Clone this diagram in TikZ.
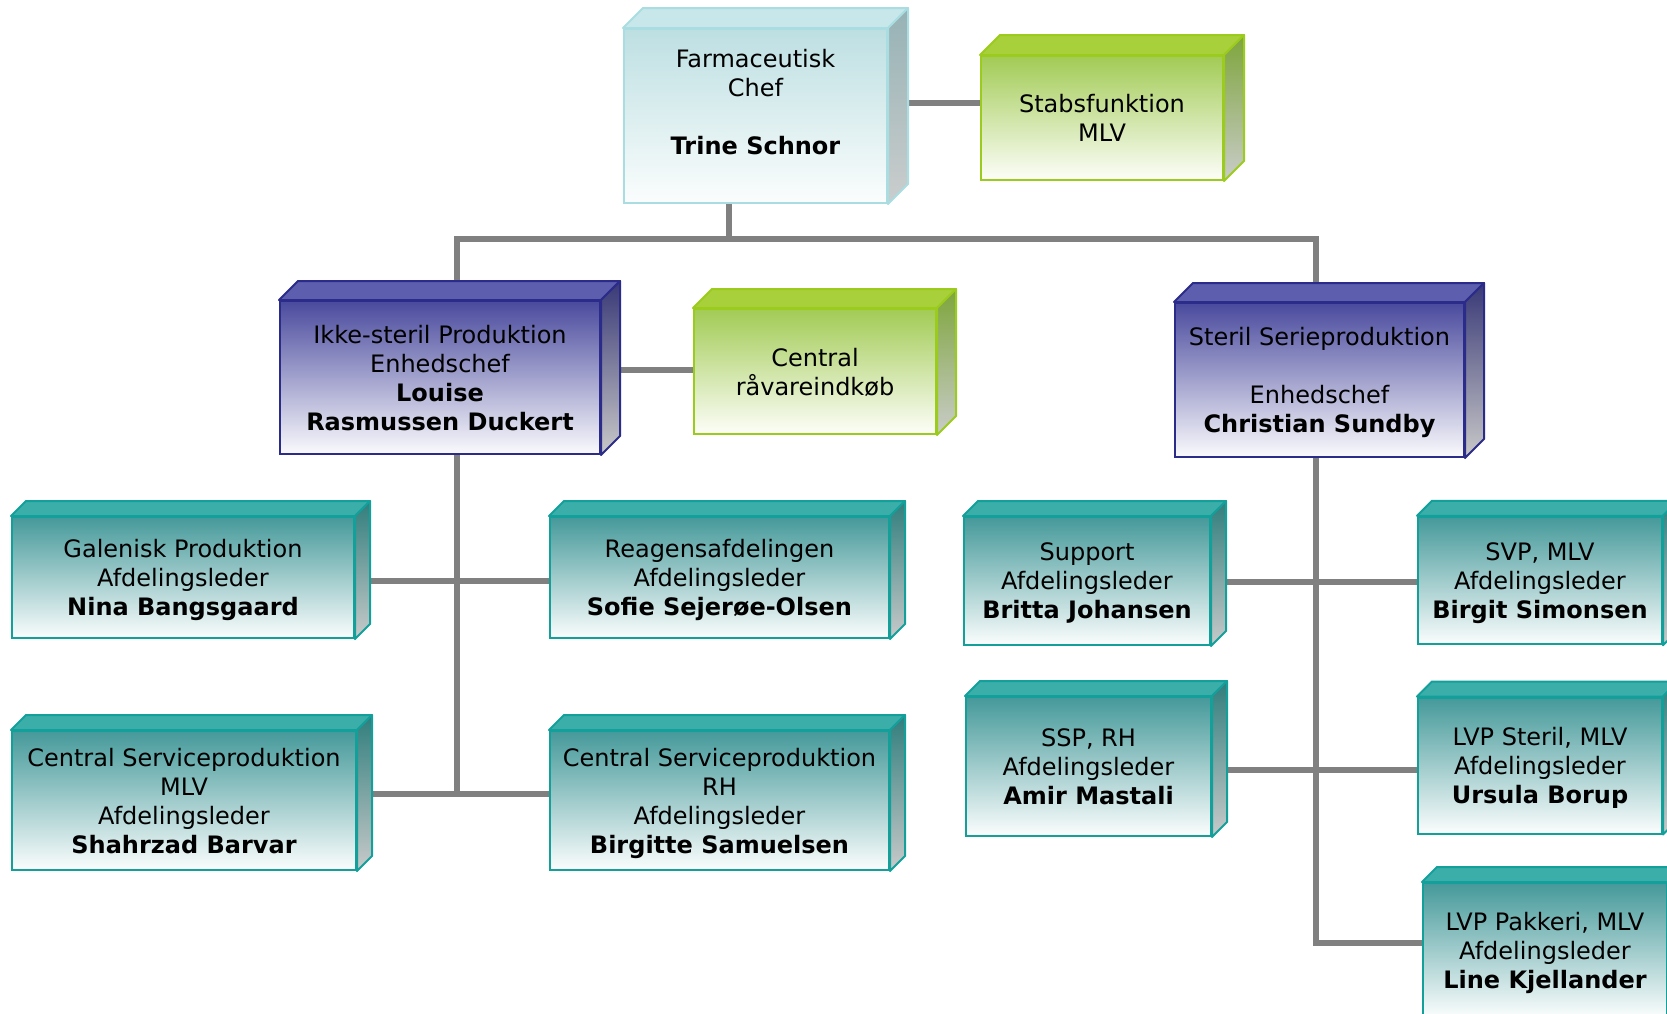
\documentclass[tikz,border=0pt]{standalone}
\usepackage{fontspec}
\setmainfont{DejaVu Sans}
\usetikzlibrary{calc}
\pgfdeclarelayer{bg}
\pgfsetlayers{bg,main}
% Farma (light teal)
\definecolor{fabd}{HTML}{A9DDE1}\definecolor{fatp}{HTML}{C7E7EA}
\definecolor{faft}{HTML}{BDDFE2}\definecolor{famd}{HTML}{DFF0F1}\definecolor{fabt}{HTML}{FBFDFD}
\definecolor{fast}{HTML}{96B2B5}\definecolor{fasb}{HTML}{CBCDCD}
% green
\definecolor{grbd}{HTML}{9BCB1C}\definecolor{grtp}{HTML}{A8D03A}
\definecolor{grft}{HTML}{A2CB55}\definecolor{grmd}{HTML}{DAECBC}\definecolor{grbt}{HTML}{FDFEF9}
\definecolor{grst}{HTML}{7EA53B}\definecolor{grsb}{HTML}{C9CCC9}
% purple
\definecolor{pubd}{HTML}{2B2B8A}\definecolor{putp}{HTML}{5E5EAE}
\definecolor{puft}{HTML}{4A4A9E}\definecolor{pumd}{HTML}{B6B6D8}\definecolor{pubt}{HTML}{FAFAFD}
\definecolor{pust}{HTML}{383877}\definecolor{pusb}{HTML}{C9C9C9}
% teal
\definecolor{tlbd}{HTML}{13A09B}\definecolor{tltp}{HTML}{3BAEAA}
\definecolor{tlft}{HTML}{45999A}\definecolor{tlmd}{HTML}{C6E0E0}\definecolor{tlbt}{HTML}{FBFDFD}
\definecolor{tlst}{HTML}{2F7E7D}\definecolor{tlsb}{HTML}{C9CACA}
\definecolor{connc}{HTML}{808080}
\tikzset{
  conn/.style={draw=connc, line width=6pt},
  front/.style={draw=#1bd, line width=2pt, top color=#1ft, middle color=#1md, bottom color=#1bt,
    inner sep=0pt, align=center, text=black, text depth=0pt, font=\fontsize{24}{29}\selectfont},
  topf/.style={draw=#1bd, line width=2pt, fill=#1tp, line join=round},
  sidef/.style={draw=#1bd, line width=2pt, top color=#1st, bottom color=#1sb, line join=round},
}
\newcommand{\cubebox}[8]{%
  \node[front=#7, minimum width=#4, minimum height=#5] (#1) at (#2,#3) {#8};
  \draw[topf=#7] (#1.north west) -- ++(#6,-#6) -- ([shift={(#6,-#6)}]#1.north east) -- (#1.north east) -- cycle;
  \draw[sidef=#7] (#1.north east) -- ++(#6,-#6) -- ([shift={(#6,-#6)}]#1.south east) -- (#1.south east) -- cycle;
}
\begin{document}
\begin{tikzpicture}[x=1pt,y=-1pt]
\useasboundingbox (0,0) rectangle (1667,1013);
\clip (0,0) rectangle (1667,1013);
\cubebox{farma}{755.5}{116}{263}{174}{20}{fa}{Farmaceutisk\\Chef\\[29pt]\textbf{Trine Schnor}\\\mbox{}}
\cubebox{stab}{1102}{118}{242}{124}{20}{gr}{Stabsfunktion\\MLV}
\cubebox{ikke}{440}{377.5}{320}{153}{19}{pu}{Ikke-steril Produktion\\Enhedschef\\\textbf{Louise}\\\textbf{Rasmussen Duckert}}
\cubebox{raav}{815}{371.5}{242}{125}{19}{gr}{Central\\råvareindkøb}
\cubebox{steril}{1319.5}{380}{289}{154}{19}{pu}{Steril Serieproduktion\\[29pt]Enhedschef\\\textbf{Christian Sundby}}
\cubebox{gal}{183}{577.5}{342}{121}{15}{tl}{Galenisk Produktion\\Afdelingsleder\\\textbf{Nina Bangsgaard}}
\cubebox{reag}{719.5}{577.5}{339}{121}{15}{tl}{Reagensafdelingen\\Afdelingsleder\\\textbf{Sofie Sejerøe-Olsen}}
\cubebox{cspm}{184}{800.5}{344}{139}{15}{tl}{Central Serviceproduktion\\MLV\\Afdelingsleder\\\textbf{Shahrzad Barvar}}
\cubebox{csprh}{719.5}{800.5}{339}{139}{15}{tl}{Central Serviceproduktion\\RH\\Afdelingsleder\\\textbf{Birgitte Samuelsen}}
\cubebox{supp}{1087}{581}{246}{128}{15}{tl}{Support\\Afdelingsleder\\\textbf{Britta Johansen}}
\cubebox{ssp}{1088.5}{766.5}{245}{139}{15}{tl}{SSP, RH\\Afdelingsleder\\\textbf{Amir Mastali}}
\cubebox{svp}{1540}{580.5}{244}{127.5}{15}{tl}{SVP, MLV\\Afdelingsleder\\\textbf{Birgit Simonsen}}
\cubebox{lvps}{1540}{765.5}{244}{136}{15}{tl}{LVP Steril, MLV\\Afdelingsleder\\\textbf{Ursula Borup}}
\cubebox{pak}{1545}{950}{244}{134}{15}{tl}{LVP Pakkeri, MLV\\Afdelingsleder\\\textbf{Line Kjellander}}
\begin{pgfonlayer}{bg}
  \coordinate (fs) at ([shift={(20,-13)}]farma.east);
  \draw[conn] (fs) -- (fs -| stab.west);
  \coordinate (fb) at ([shift={(-26.5,0)}]farma.south);
  \draw[conn] (fb) -- ++(0,35) coordinate (busmid);
  \coordinate (ik) at ([shift={(17,0)}]ikke.north);
  \coordinate (st) at ([shift={(-3.5,0)}]steril.north);
  \draw[conn] (ik) |- (busmid) -| (st);
  \coordinate (ir) at ([shift={(19,-7.5)}]ikke.east);
  \draw[conn] (ir) -- (ir -| raav.west);
  \coordinate (lt) at ([shift={(17,0)}]ikke.south);
  \coordinate (gr) at ([shift={(15,3)}]gal.east);
  \draw[conn] (gr) -- (gr -| reag.west);
  \coordinate (cr) at ([shift={(15,-6.5)}]cspm.east);
  \draw[conn] (cr) -- (cr -| csprh.west);
  \draw[conn] (lt) -- (lt |- cr);
  \coordinate (rt) at ([shift={(-3.5,0)}]steril.south);
  \coordinate (sr) at ([shift={(15,0.5)}]supp.east);
  \draw[conn] (sr) -- (sr -| svp.west);
  \coordinate (ssr) at ([shift={(15,3)}]ssp.east);
  \draw[conn] (ssr) -- (ssr -| lvps.west);
  \draw[conn] (rt) |- ([shift={(0,-7)}]pak.west);
\end{pgfonlayer}
\end{tikzpicture}
\end{document}
